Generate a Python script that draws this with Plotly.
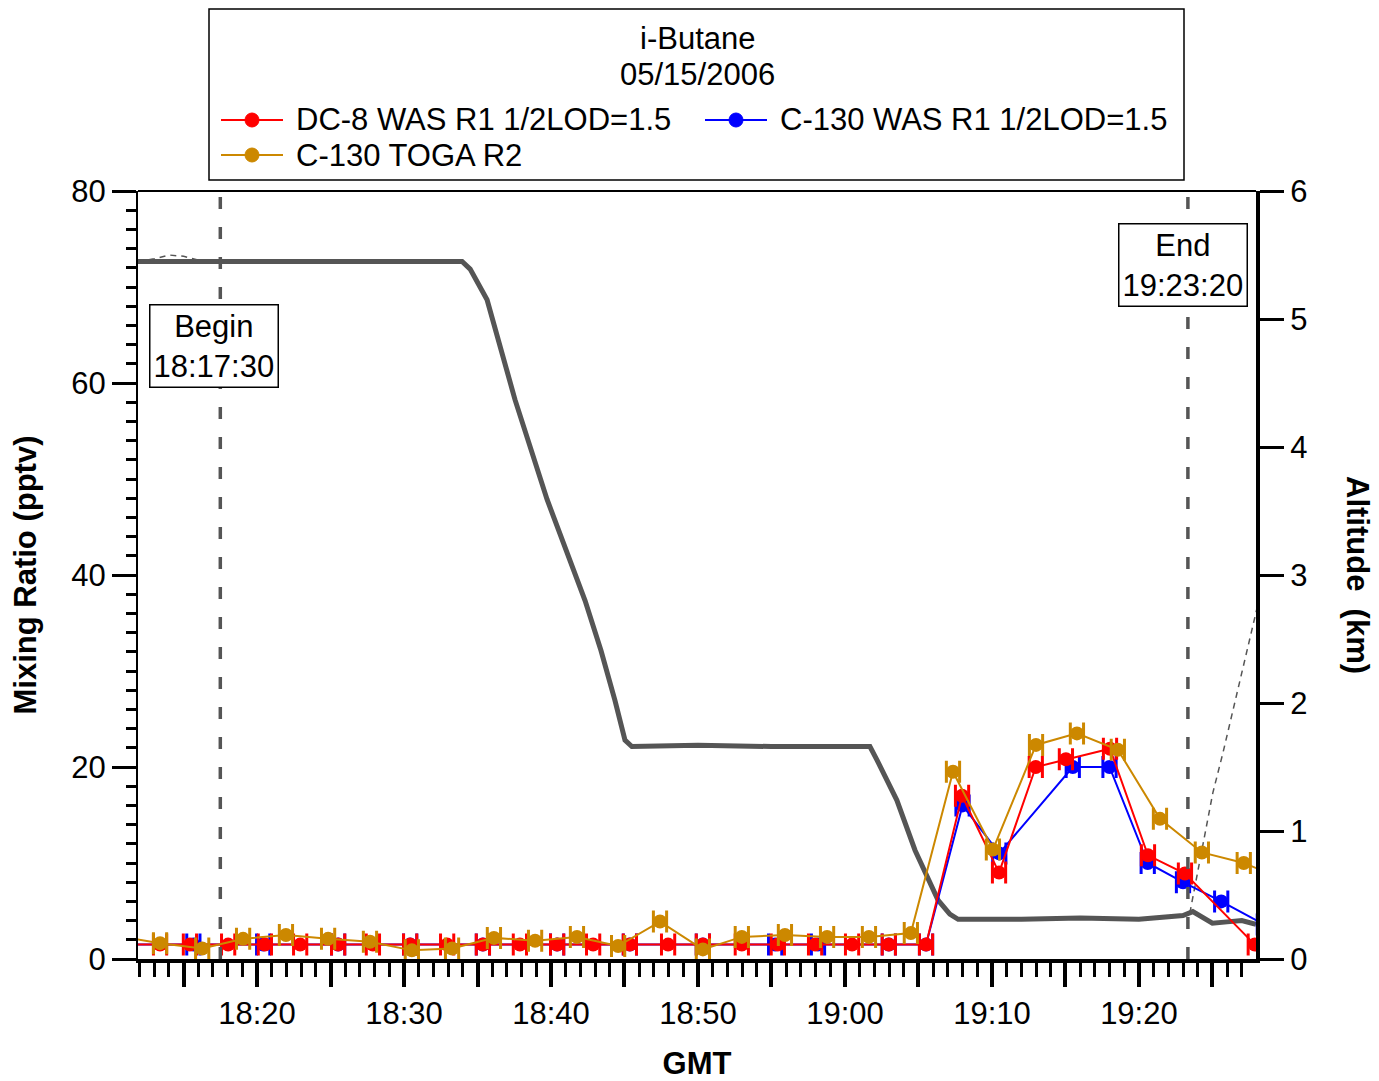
import plotly.graph_objects as go

# DC-8 WAS (pptv)
dc8_time = ["18:11:00", "18:13:24", "18:15:26", "18:18:02", "18:20:32", "18:22:56", "18:25:31",
            "18:27:53", "18:30:25", "18:32:56", "18:35:22", "18:37:53", "18:40:25", "18:42:52",
            "18:45:22", "18:47:58", "18:50:20", "18:52:59", "18:55:26", "18:57:58", "19:00:29",
            "19:02:59", "19:05:31", "19:07:58", "19:10:29", "19:12:59", "19:15:02", "19:18:02",
            "19:20:37", "19:23:08", "19:27:53"]
dc8_val = [1.5, 1.5, 1.5, 1.5, 1.5, 1.5, 1.5, 1.5, 1.5, 1.5, 1.5, 1.5, 1.5, 1.5, 1.5, 1.5,
           1.5, 1.5, 1.5, 1.5, 1.5, 1.5, 1.5, 17.0, 9.0, 20.0, 20.8, 21.9, 10.8, 8.9, 1.5]

# C-130 WAS (pptv)
c130_time = ["18:11:00", "18:15:40", "18:20:25", "18:25:31", "18:30:25", "18:35:22", "18:40:25",
             "18:45:22", "18:50:20", "18:55:15", "18:58:10", "19:02:59", "19:05:31", "19:08:00",
             "19:10:30", "19:15:30", "19:18:00", "19:20:36", "19:23:00", "19:25:36", "19:28:30"]
c130_val = [1.5, 1.5, 1.5, 1.5, 1.5, 1.5, 1.5, 1.5, 1.5, 1.5, 1.5, 1.5, 1.5, 16.0,
            11.0, 20.0, 20.0, 10.0, 8.0, 6.0, 3.6]

# C-130 TOGA (pptv)
toga_time = ["18:10:30", "18:13:24", "18:16:16", "18:19:03", "18:21:58", "18:24:50", "18:27:41",
             "18:30:32", "18:33:16", "18:36:07", "18:38:55", "18:41:46", "18:44:34", "18:47:25",
             "18:50:20", "18:52:59", "18:55:55", "18:58:47", "19:01:38", "19:04:29", "19:07:21",
             "19:10:04", "19:13:00", "19:15:47", "19:18:34", "19:21:26", "19:24:17", "19:27:08",
             "19:30:00"]
toga_val = [2.4, 1.65, 1.1, 2.1, 2.5, 2.1, 1.8, 0.9, 1.1, 2.2, 1.9, 2.3, 1.35, 3.9, 1.0,
            2.3, 2.5, 2.3, 2.3, 2.7, 19.5, 11.4, 22.3, 23.5, 21.8, 14.6, 11.1, 10.0, 8.2]

# altitude (km)
alt_time = ["18:11:54", "18:20:00", "18:30:00", "18:33:57", "18:34:30", "18:35:39", "18:37:33",
            "18:39:44", "18:42:19", "18:43:24", "18:44:21", "18:45:02", "18:45:30", "18:50:00",
            "18:55:00", "19:00:00", "19:01:42", "19:02:12", "19:03:32", "19:04:46", "19:06:20",
            "19:07:08", "19:07:42", "19:12:00", "19:16:00", "19:20:00", "19:23:00", "19:23:40",
            "19:25:00", "19:26:00", "19:27:00", "19:27:58"]
alt_val = [5.45, 5.45, 5.45, 5.45, 5.39, 5.15, 4.37, 3.59, 2.80, 2.41, 2.02, 1.71, 1.66, 1.67,
           1.66, 1.66, 1.66, 1.55, 1.24, 0.85, 0.46, 0.35, 0.31, 0.31, 0.32, 0.31, 0.34, 0.37,
           0.28, 0.29, 0.30, 0.27]

# second (thin) altitude trace
alt2_time = ["18:11:54", "18:13:00", "18:14:00", "18:15:00", "18:16:00", None,
             "19:23:28", "19:25:02", "19:25:43", "19:26:32", "19:27:21", "19:28:02"]
alt2_val = [5.45, 5.47, 5.50, 5.49, 5.46, None, 0.36, 1.30, 1.61, 2.00, 2.39, 2.74]

begin_time = "18:17:30"
end_time = "19:23:20"

x_ticks = ["18:15", "18:20", "18:25", "18:30", "18:35", "18:40", "18:45", "18:50", "18:55",
           "19:00", "19:05", "19:10", "19:15", "19:20", "19:25"]
x_labels = ["", "18:20", "", "18:30", "", "18:40", "", "18:50", "", "19:00", "", "19:10", "", "19:20", ""]

FONT = "Arial, Liberation Sans, sans-serif"


def mins(t):
    # minutes after 18:00
    if t is None:
        return None
    p = [int(v) for v in t.split(":")]
    while len(p) < 3:
        p.append(0)
    return (p[0] - 18) * 60 + p[1] + p[2] / 60.0


def mlist(lst):
    return [mins(t) for t in lst]


# page pixel -> paper coordinates (plot area 138..1256 x 191..959)
def px(x):
    return (x - 138) / 1118.0


def py(y):
    return (959 - y) / 768.0


fig = go.Figure()

# altitude on primary axis (drawn underneath)
fig.add_trace(go.Scatter(x=mlist(alt_time), y=alt_val, mode="lines", yaxis="y",
                         line=dict(color="#555555", width=5), showlegend=False))
fig.add_trace(go.Scatter(x=mlist(alt2_time), y=alt2_val, mode="lines", yaxis="y",
                         line=dict(color="#555555", width=1.5, dash="6px,5px"),
                         showlegend=False, connectgaps=False))

err = dict(type="constant", value=0.45, thickness=3, width=11)

series = [
    (c130_time, c130_val, "#0000ff"),
    (dc8_time, dc8_val, "#ff0000"),
    (toga_time, toga_val, "#cc8800"),
]
for tt, vv, col in series:
    fig.add_trace(go.Scatter(x=mlist(tt), y=vv, mode="lines+markers", yaxis="y2",
                             line=dict(color=col, width=2), marker=dict(size=14, color=col),
                             error_x=dict(err, color=col), showlegend=False))

# begin / end dashed lines
for t in [begin_time, end_time]:
    fig.add_shape(type="line", xref="x", yref="paper", x0=mins(t), x1=mins(t), y0=0, y1=1,
                  line=dict(color="#555555", width=3.5, dash="12px,18px"))

# top frame line
fig.add_shape(type="line", xref="paper", yref="paper", x0=0, x1=1, y0=1, y1=1,
              line=dict(color="black", width=2))

# legend box
fig.add_shape(type="rect", xref="paper", yref="paper", x0=px(209), x1=px(1184), y0=py(180), y1=py(9),
              line=dict(color="black", width=1.5), fillcolor="white", layer="below")

ann_font = dict(size=31, family=FONT, color="black")
fig.add_annotation(text="i-Butane", xref="paper", yref="paper", x=px(697), y=py(38),
                   xanchor="center", yanchor="middle", showarrow=False, font=ann_font)
fig.add_annotation(text="05/15/2006", xref="paper", yref="paper", x=px(697), y=py(74),
                   xanchor="center", yanchor="middle", showarrow=False, font=ann_font)

legend_items = [
    ("DC-8 WAS R1 1/2LOD=1.5", "#ff0000", 221, 120),
    ("C-130 WAS R1 1/2LOD=1.5", "#0000ff", 705, 120),
    ("C-130 TOGA R2", "#cc8800", 221, 155),
]
for name, col, x0, y0 in legend_items:
    fig.add_shape(type="line", xref="paper", yref="paper", x0=px(x0), x1=px(x0 + 62),
                  y0=py(y0), y1=py(y0), line=dict(color=col, width=2))
    fig.add_shape(type="circle", xref="paper", yref="paper", x0=px(x0 + 24), x1=px(x0 + 38),
                  y0=py(y0 + 7), y1=py(y0 - 7), line=dict(color=col, width=1), fillcolor=col)
    fig.add_annotation(text=name, xref="paper", yref="paper", x=px(x0 + 73), y=py(y0),
                       xanchor="left", yanchor="middle", showarrow=False, font=ann_font)

fig.add_annotation(text="Begin<br>18:17:30", xref="paper", yref="paper", x=px(214), y=py(346),
                   xanchor="center", yanchor="middle", showarrow=False, bgcolor="white",
                   bordercolor="black", borderwidth=1.5, borderpad=3, font=ann_font)
fig.add_annotation(text="End<br>19:23:20", xref="paper", yref="paper", x=px(1183), y=py(265),
                   xanchor="center", yanchor="middle", showarrow=False, bgcolor="white",
                   bordercolor="black", borderwidth=1.5, borderpad=3, font=ann_font)

fig.add_annotation(text="<b>Altitude  (km)</b>", xref="paper", yref="paper", x=px(1358), y=py(575),
                   xanchor="center", yanchor="middle", textangle=90, showarrow=False, font=ann_font)

fig.update_layout(
    width=1371, height=1073,
    margin=dict(l=130, r=123, t=183, b=122, autoexpand=False),
    paper_bgcolor="white", plot_bgcolor="white",
    font=dict(family=FONT, size=31, color="black"),
    showlegend=False,
    xaxis=dict(range=[mins("18:11:54"), mins("19:27:58")],
               tickmode="array", tickvals=mlist(x_ticks), ticktext=x_labels,
               ticks="outside", ticklen=24, tickwidth=3.5, tickcolor="black",
               minor=dict(dtick=1, tick0=0, ticks="outside", ticklen=14,
                          tickwidth=3, tickcolor="black"),
               showline=True, linewidth=4, linecolor="black", showgrid=False, zeroline=False,
               title=dict(text="<b>GMT</b>", font=dict(size=31, family=FONT), standoff=24),
               tickfont=dict(size=31, family=FONT)),
    yaxis=dict(range=[0, 6], side="right", dtick=1, ticks="outside", ticklen=24, tickwidth=3,
               tickcolor="black", showline=True, linewidth=4, linecolor="black",
               showgrid=False, zeroline=False, tickfont=dict(size=31, family=FONT)),
    yaxis2=dict(range=[0, 80], side="left", overlaying="y", dtick=20, ticks="outside",
                ticklen=24, tickwidth=3, tickcolor="black",
                minor=dict(dtick=2, ticks="outside", ticklen=10, tickwidth=3, tickcolor="black"),
                showline=True, linewidth=2, linecolor="black", showgrid=False, zeroline=False,
                title=dict(text="<b>Mixing Ratio (pptv)</b>", font=dict(size=31, family=FONT),
                           standoff=26),
                tickfont=dict(size=31, family=FONT)),
)

fig.write_html("out.html")
